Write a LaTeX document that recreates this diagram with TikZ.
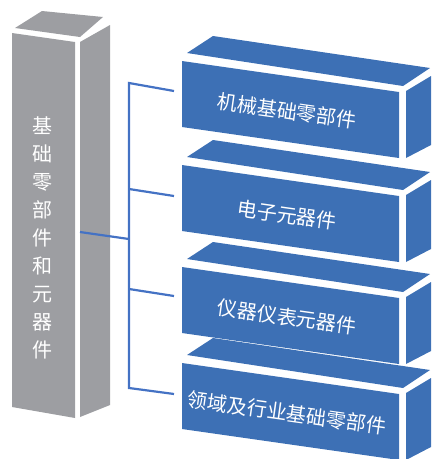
\documentclass[tikz,border=0pt]{standalone}
\usepackage{fontspec}
\newfontfamily\cjk{Noto Sans CJK SC}
\definecolor{boxblue}{HTML}{3D70B5}
\definecolor{pillargray}{HTML}{9D9EA2}
\definecolor{lineblue}{HTML}{4472C4}
\tikzset{
  boxface/.style={fill=boxblue},
  pillarface/.style={fill=pillargray},
  conn/.style={draw=lineblue, line width=2.2pt},
  boxlabel/.style={font=\cjk\fontsize{20}{24}\selectfont, text=white, rotate=-8, inner sep=0pt},
  pillarlabel/.style={font=\cjk\fontsize{20}{28}\selectfont, text=white, align=center, inner sep=0pt}
}
\begin{document}
\begin{tikzpicture}[x=1pt,y=-1pt]
\useasboundingbox (0,0) rectangle (432,459);
% pillar
\fill[pillarface] (15,28) -- (42,11) -- (103,17) -- (80,37) -- cycle;
\fill[pillarface] (12,33) -- (75,42) -- (75,418) -- (12,407) -- cycle;
\fill[pillarface] (80,42) -- (110,25) -- (110,405) -- (80,417) -- cycle;
\node[pillarlabel] (pillar) at (43,238) {基\\础\\零\\部\\件\\和\\元\\器\\件};
% boxes
\foreach \t/\n/\lab in {61/1/机械基础零部件,165/2/电子元器件,267/3/仪器仪表元器件,363/4/领域及行业基础零部件}{
  \fill[boxface] (187,\t-8) -- (213,\t-25) -- (430,\t+7) -- (403,\t+25) -- cycle;
  \fill[boxface] (182,\t) -- (399,\t+31) -- (399,\t+97) -- (182,\t+66) -- cycle;
  \fill[boxface] (406,\t+30) -- (431,\t+15) -- (431,\t+84) -- (406,\t+97) -- cycle;
  \node[boxlabel] (box\n) at (287,\t+50) {\lab};
}
% connectors
\coordinate (p) at (80,232);
\coordinate (j) at (129,239);
\coordinate (j1) at (129,83);
\coordinate (j2) at (129,189);
\coordinate (j3) at (129,289);
\coordinate (j4) at (129,388);
\coordinate (e1) at (174,91);
\coordinate (e2) at (174,196);
\coordinate (e3) at (174,296);
\coordinate (e4) at (174,394);
\draw[conn] (e1) -- (j1) -- (j4) -- (e4);
\draw[conn] (j2) -- (e2);
\draw[conn] (j3) -- (e3);
\draw[conn] (p) -- (j);
\end{tikzpicture}
\end{document}
